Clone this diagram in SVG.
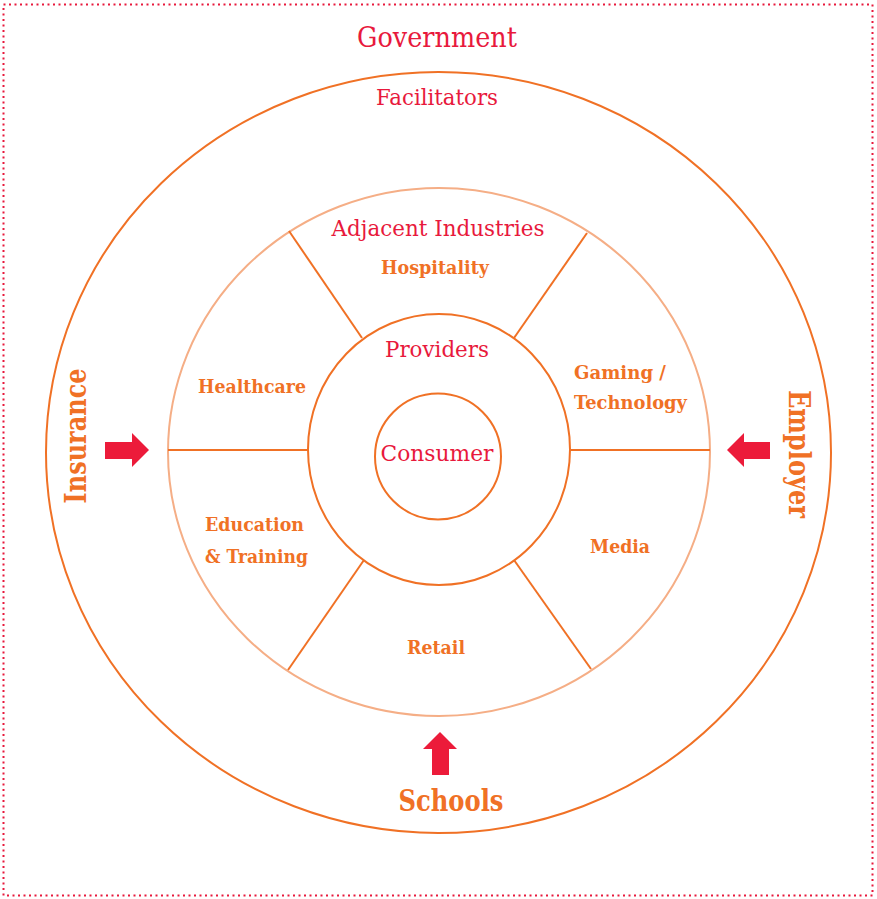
<svg xmlns="http://www.w3.org/2000/svg" width="877" height="899" viewBox="0 0 877 899">
<style>
.red{fill:#e8193c;font-family:"DejaVu Serif","Liberation Serif",serif;}
.org{fill:#f07125;font-family:"DejaVu Serif","Liberation Serif",serif;font-weight:bold;}
.ring{fill:none;stroke:#f07125;stroke-width:2;}
.ring2{fill:none;stroke:#f5ae86;stroke-width:2;}
.spoke{stroke:#f07125;stroke-width:2;fill:none;}
.arrow{fill:#ec1b3a;}
</style>
<rect x="3.5" y="4.5" width="869" height="891" fill="none" stroke="#e8193c" stroke-width="2" stroke-dasharray="2 3.5"/>
<g id="facilitators">
<ellipse class="ring" cx="438.5" cy="452.5" rx="392.5" ry="380.5"/>
<text class="red" x="437" y="105" font-size="23" text-anchor="middle" textLength="122" lengthAdjust="spacingAndGlyphs">Facilitators</text>
</g>
<g id="government">
<text class="red" x="437" y="47" font-size="28.5" text-anchor="middle" textLength="160" lengthAdjust="spacingAndGlyphs">Government</text>
</g>
<g id="adjacent">
<ellipse class="ring2" cx="439" cy="452" rx="271" ry="264"/>
<text class="red" x="438" y="236" font-size="23" text-anchor="middle" textLength="213" lengthAdjust="spacingAndGlyphs">Adjacent Industries</text>
</g>
<g id="connectors">
<line class="spoke" x1="168" y1="450" x2="308" y2="450"/>
<line class="spoke" x1="570" y1="450" x2="710" y2="450"/>
<line class="spoke" x1="289" y1="231" x2="362" y2="338"/>
<line class="spoke" x1="587" y1="233" x2="514" y2="338"/>
<line class="spoke" x1="364" y1="560" x2="288" y2="670"/>
<line class="spoke" x1="514" y1="560" x2="591" y2="669"/>
</g>
<g id="providers">
<ellipse class="ring" cx="439" cy="449.5" rx="131" ry="135.5" fill="#fff"/>
<text class="red" x="437" y="357" font-size="23" text-anchor="middle" textLength="104" lengthAdjust="spacingAndGlyphs">Providers</text>
</g>
<g id="consumer">
<circle class="ring" cx="438" cy="456.5" r="63"/>
<text class="red" x="437" y="461" font-size="23" text-anchor="middle" textLength="113" lengthAdjust="spacingAndGlyphs">Consumer</text>
</g>
<g id="hospitality"><text class="org" x="435" y="274" font-size="18.5" text-anchor="middle" textLength="108" lengthAdjust="spacingAndGlyphs">Hospitality</text></g>
<g id="healthcare"><text class="org" x="252" y="393" font-size="18.5" text-anchor="middle" textLength="108" lengthAdjust="spacingAndGlyphs">Healthcare</text></g>
<g id="gaming"><text class="org" x="574" y="379" font-size="18.5" textLength="92" lengthAdjust="spacingAndGlyphs">Gaming /</text><text class="org" x="574" y="409" font-size="18.5" textLength="113" lengthAdjust="spacingAndGlyphs">Technology</text></g>
<g id="education"><text class="org" x="205" y="531" font-size="18.5" textLength="99" lengthAdjust="spacingAndGlyphs">Education</text><text class="org" x="205" y="563" font-size="18.5" textLength="103" lengthAdjust="spacingAndGlyphs">&amp; Training</text></g>
<g id="media"><text class="org" x="620" y="553" font-size="18.5" text-anchor="middle" textLength="60" lengthAdjust="spacingAndGlyphs">Media</text></g>
<g id="retail"><text class="org" x="436" y="654" font-size="18.5" text-anchor="middle" textLength="58" lengthAdjust="spacingAndGlyphs">Retail</text></g>
<g id="insurance">
<text class="org" transform="translate(86,436) rotate(-90)" font-size="29" text-anchor="middle" textLength="135" lengthAdjust="spacingAndGlyphs">Insurance</text>
<polygon class="arrow" points="105,442 132,442 132,433 149,450 132,467 132,459 105,459"/>
</g>
<g id="employer">
<text class="org" transform="translate(789,454) rotate(90)" font-size="29" text-anchor="middle" textLength="128" lengthAdjust="spacingAndGlyphs">Employer</text>
<polygon class="arrow" points="770,442 744,442 744,433 727,450 744,467 744,459 770,459"/>
</g>
<g id="schools">
<text class="org" x="451" y="811" font-size="29" text-anchor="middle" textLength="105" lengthAdjust="spacingAndGlyphs">Schools</text>
<polygon class="arrow" points="432,775 432,749 423,749 440,732 457,749 449,749 449,775"/>
</g>
</svg>
